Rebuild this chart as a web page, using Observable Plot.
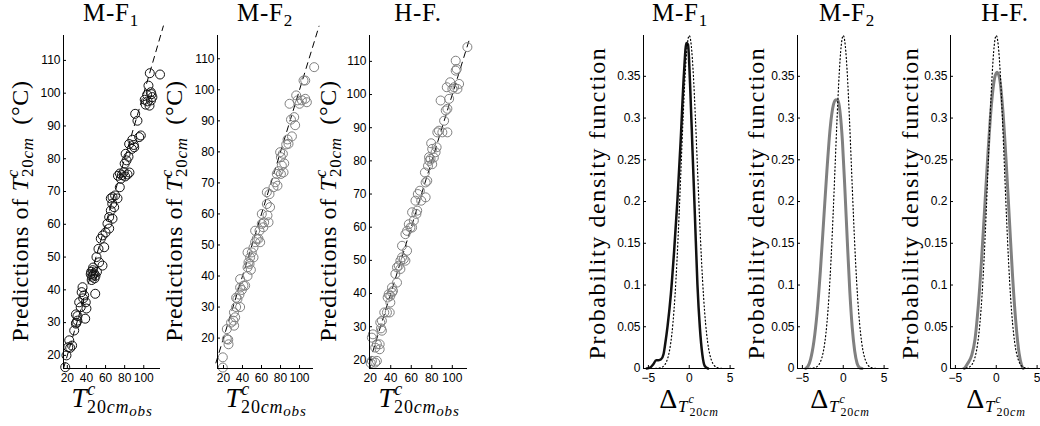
<!DOCTYPE html>
<html><head><meta charset="utf-8">
<script src="https://cdn.jsdelivr.net/npm/d3@7"></script>
<script src="https://cdn.jsdelivr.net/npm/@observablehq/plot@0.6"></script>
<style>
html,body{margin:0;padding:0;background:#fff;}
#wrap{position:relative;width:1040px;height:426px;overflow:hidden;background:#fff;}
#wrap > svg{position:absolute;top:0;}
</style></head><body><div id="wrap"></div>
<script>
// ---------- data ----------
const titles = ["M-F", "M-F", "H-F."];
const titleSubs = ["1", "2", ""];

// scatter: [observed T20cm, predicted T20cm]
const mf1Points = [[17.8,16.4],[19.1,20],[21,22.5],[23,22.3],[25,23],[22,24.6],[27.2,27.6],[29,29.7],[30.5,30.6],[29.5,30],[30.6,32],[29,32.5],[34,34.7],[32.4,36.2],[36.6,37.4],[37.6,38.3],[35,39.3],[35.9,40.8],[38.7,31.2],[40,34.3],[39.3,36.2],[49.2,38.8],[45,45.5],[46.5,46],[48,45],[49.5,44.3],[46,44],[51,45.5],[47,46.8],[48.5,43.5],[44.5,44.8],[45.5,43],[47,44.6],[56.8,47.4],[53.3,48.4],[50.5,50],[52.6,52.5],[58.6,53],[55,55.6],[57,56.6],[60,57.5],[63.8,58.7],[62,60.2],[67.3,61.7],[63.8,62.2],[65.5,64.2],[69,65.2],[67,66.3],[72.5,67.9],[70,68.8],[65.5,67.9],[67.3,68.3],[74.9,71.3],[76,73.9],[73,74.8],[75,75.5],[77,75],[79,75.9],[80.5,74.6],[83,75.2],[85,75.8],[80,78.5],[82,79.5],[84,80.6],[81,81.5],[84.7,84.5],[88,85.8],[89.5,84.2],[87.5,83],[90,83.5],[95.2,86.6],[96.9,87.1],[93.4,91.6],[91,93.7],[102,96.5],[104,97.5],[106,96.2],[107.5,97.8],[109,98.8],[103.5,99.5],[108,99.7],[101,98],[107.3,100.3],[104.9,102.3],[106.3,106.1],[117,105.7]];
const mf2Points = [[19.3,10.5],[19.3,13.8],[23.5,19.7],[25,19.5],[25.3,18],[23.5,22.9],[28,25],[30.5,25.6],[31.2,24],[32.3,26.7],[31,28.3],[33.3,30],[34.7,32.6],[33.3,33],[37.5,30],[36.8,34],[39.3,35.5],[37.5,36.3],[41,36.9],[42.8,36.9],[37.5,39],[45.3,40],[45.3,42.8],[47.4,43.9],[48.8,42],[46.3,44.4],[48,46],[51.6,46],[45.3,47.6],[49.8,47.6],[51.6,49.2],[53.3,50.9],[55,52],[56.8,52],[58.6,50.9],[53.3,54.6],[57.9,54.6],[60.3,56.8],[61.9,55.7],[62.8,57.3],[67.4,57.3],[60.3,60],[66.3,59.5],[69,62.2],[65.6,63.2],[68.4,66.4],[65.6,67],[72.6,68.6],[76.8,69.1],[74.4,70.2],[76.1,72.9],[77.9,73.8],[80.4,72.9],[83.2,73.4],[81.4,75.6],[83.9,76.3],[80.4,78.3],[79.6,79.9],[82.5,79.4],[86,82.4],[88.4,82.6],[87.4,84],[92,85],[91,90.4],[94.4,91.2],[95.4,88.6],[89.5,95.5],[96.5,98.2],[97.9,96.6],[100,95.5],[102.5,96.6],[106,97.1],[107.7,96],[104.2,103],[106,103],[115.4,107.3]];
const hfPoints = [[21.6,19.7],[20.5,19],[24.9,19.2],[26.5,19.7],[21.6,26.7],[22.6,27.7],[24.9,23.7],[26.5,24.7],[29.2,23.2],[29.2,24.7],[31.4,28.8],[30.5,29.5],[29.8,31.3],[31.4,31.8],[33.7,34.3],[36.3,34.3],[39,34.3],[37,38.8],[38,39.8],[39.6,39.3],[41.2,40.3],[42.2,40.8],[39.6,37.3],[41.2,41.8],[46.1,43.3],[44.5,45.9],[46.1,47.9],[47.8,48.4],[49.4,47.4],[49.4,49.9],[51,50.9],[52.7,50.4],[54.3,49.9],[51,54.4],[55.9,52.9],[54.3,57.9],[55.9,58.9],[57.6,60.9],[59.2,59.9],[60.8,59.9],[62.5,62],[60.8,64.5],[65,64],[65.8,65],[64.1,68],[66.4,70],[68.4,71],[69.7,68],[74,69],[74,73.5],[75.6,74],[73.3,76.5],[76.3,78.5],[77.6,80],[78.8,80.6],[80.4,79],[77.3,81.1],[82,81],[83.7,82.6],[80.4,83.6],[84.7,84.1],[79.4,85.3],[85.4,88.6],[87,89.1],[90.3,88.6],[95.2,88.6],[92,92.1],[93.6,95.2],[95.2,95.7],[88.6,98.2],[96.9,98.7],[94.6,102.2],[97.9,103.7],[100.1,101.7],[101.7,102.2],[105,101.7],[106.6,103.2],[103.3,107.2],[104.3,107.7],[103.3,110.2],[114.7,114.3]];

// axis limits of the three scatter panels
const scatterXLim = [[16, 117.5], [13.7, 114.7], [19.3, 114.8]];
const scatterYLim = [[16, 117.6], [10.2, 117.5], [17.4, 117.8]];
const refLineEnds = [[16, 120.5], [12, 120.5], [19.3, 116.5]];   // y = x reference
const scatterXTicks = [20, 40, 60, 80, 100];
const scatterYTicks = [20, 30, 40, 50, 60, 70, 80, 90, 100, 110];

// probability density functions of the prediction error
const normX = [-5,-4.5,-4,-3.5,-3,-2.75,-2.5,-2.25,-2,-1.75,-1.5,-1.25,-1,-0.75,-0.5,-0.25,0,0.25,0.5,0.75,1,1.25,1.5,1.75,2,2.25,2.5,2.75,3,3.5,4,4.5,5];
const normY = [0,0,0.0001,0.0009,0.0044,0.0091,0.0175,0.0317,0.054,0.0863,0.1295,0.1826,0.242,0.3011,0.3521,0.3867,0.3989,0.3867,0.3521,0.3011,0.242,0.1826,0.1295,0.0863,0.054,0.0317,0.0175,0.0091,0.0044,0.0009,0.0001,0,0];
const pdfMF1X = [-5.2,-4.8,-4.4,-4.05,-3.75,-3.45,-3.15,-2.95,-2.65,-2.25,-1.85,-1.45,-1.05,-0.65,-0.35,-0.15,0.1,0.4,0.7,1.0,1.3,1.6,1.9,2.3];
const pdfMF1Y = [0,0.001,0.005,0.010,0.010,0.011,0.017,0.029,0.051,0.089,0.141,0.201,0.273,0.353,0.390,0.388,0.341,0.261,0.181,0.101,0.049,0.017,0.003,0];
const pdfMF2X = [-4.6,-4.3,-4.0,-3.6,-3.2,-2.8,-2.4,-2.0,-1.6,-1.2,-0.9,-0.65,-0.4,-0.1,0.2,0.5,0.8,1.1,1.4,1.7,2.0,2.3];
const pdfMF2Y = [0,0.003,0.011,0.032,0.067,0.117,0.177,0.237,0.288,0.316,0.322,0.321,0.308,0.272,0.215,0.152,0.093,0.049,0.021,0.006,0.001,0];
const pdfHFX = [-3.9,-3.5,-3.0,-2.6,-2.2,-1.8,-1.4,-1.0,-0.6,-0.2,0.1,0.4,0.8,1.2,1.6,2.0,2.4,2.8,3.1,3.3];
const pdfHFY = [0,0.006,0.016,0.035,0.075,0.13,0.195,0.26,0.315,0.348,0.355,0.348,0.31,0.25,0.18,0.11,0.055,0.018,0.004,0];
const pdfXLim = [-5.6, 5.6];
const pdfYLim = [0, 0.3989];
const pdfXTicks = [-5, 0, 5];
const pdfYTicks = [0, 0.05, 0.1, 0.15, 0.2, 0.25, 0.3, 0.35];

// ---------- drawing ----------
const wrap = document.getElementById("wrap");
const tickFont = "'Liberation Sans', Arial, sans-serif";
const baseStyle = {background: "none", overflow: "visible", fontFamily: tickFont, fontSize: "12px", maxWidth: "none", color: "#000"};

function place(svg, left) {
  svg.style.position = "absolute";
  svg.style.left = left + "px";
  svg.style.top = "0px";
  wrap.appendChild(svg);
}

function axes(xTicks, yTicks, yFmt) {
  return [
    Plot.axisX({ticks: xTicks, tickSize: 0, tickPadding: 5, label: null, tickFormat: d => String(d).replace("-", "\u2212")}),
    Plot.axisX({ticks: xTicks, tickSize: 3, dy: -3, fill: "none", label: null}),
    Plot.axisY({ticks: yTicks, tickSize: 0, tickPadding: 3, label: null, tickFormat: yFmt}),
    Plot.axisY({ticks: yTicks, tickSize: 3, dx: 3, fill: "none", label: null})
  ];
}

const scatterSets = [mf1Points, mf2Points, hfPoints];
const scatterLeft = [63, 217, 369];
const scatterW = [97, 96, 98];
const scatterColor = ["#111", "#808080", "#808080"];
scatterSets.forEach((pts, i) => {
  const mL = 40, mR = 14;
  const svg = Plot.plot({
    width: mL + scatterW[i] + mR, height: 426,
    marginLeft: mL, marginRight: mR, marginTop: 35, marginBottom: 58,
    style: baseStyle,
    x: {domain: scatterXLim[i]},
    y: {domain: scatterYLim[i]},
    marks: [
      Plot.line(refLineEnds[i], {x: d => d, y: d => d, stroke: "#000", strokeWidth: 1, strokeDasharray: "6,5"}),
      Plot.dot(pts, {x: d => d[0], y: d => d[1], r: 4.5, stroke: scatterColor[i], strokeWidth: 1, fill: "none"}),
      Plot.ruleX([scatterXLim[i][0]], {stroke: "#000", strokeWidth: 1}),
      Plot.ruleY([scatterYLim[i][0]], {stroke: "#000", strokeWidth: 1}),
      ...axes(scatterXTicks, scatterYTicks, d => String(d))
    ]
  });
  place(svg, scatterLeft[i] - mL);
});

const pdfSets = [[pdfMF1X, pdfMF1Y], [pdfMF2X, pdfMF2Y], [pdfHFX, pdfHFY]];
const pdfLeft = [643, 797, 950];
const pdfW = 91.5;
const pdfColor = ["#111", "#808080", "#808080"];
const pdfWidth = [2.5, 3, 3];
pdfSets.forEach(([xs, ys], i) => {
  const mL = 45, mR = 14;
  const svg = Plot.plot({
    width: mL + pdfW + mR, height: 426,
    marginLeft: mL, marginRight: mR, marginTop: 35, marginBottom: 58,
    style: baseStyle,
    x: {domain: pdfXLim},
    y: {domain: pdfYLim},
    marks: [
      Plot.line(xs, {x: xs, y: ys, stroke: pdfColor[i], strokeWidth: pdfWidth[i], curve: "monotone-x"}),
      Plot.line(normX, {x: normX, y: normY, stroke: "#000", strokeWidth: 1.2, strokeDasharray: "1,2.6", curve: "monotone-x"}),
      Plot.ruleX([pdfXLim[0]], {stroke: "#000", strokeWidth: 1}),
      Plot.ruleY([pdfYLim[0]], {stroke: "#000", strokeWidth: 1}),
      ...axes(pdfXTicks, pdfYTicks, d => String(d))
    ]
  });
  place(svg, pdfLeft[i] - mL);
});

// ---------- text overlay (titles and axis labels) ----------
const NS = "http://www.w3.org/2000/svg";
const ov = document.createElementNS(NS, "svg");
ov.setAttribute("width", 1040); ov.setAttribute("height", 426);
ov.style.position = "absolute"; ov.style.left = "0px"; ov.style.top = "0px";
ov.style.pointerEvents = "none";
ov.style.fontFamily = "'Liberation Serif', 'Times New Roman', serif";
wrap.appendChild(ov);

function addText(x, y, rotate, parts, size, spacing) {
  const t = document.createElementNS(NS, "text");
  t.setAttribute("text-anchor", "middle");
  t.setAttribute("font-size", size);
  t.setAttribute("fill", "#000");
  if (spacing) t.style.letterSpacing = spacing + "px";
  t.setAttribute("transform", `translate(${x},${y})` + (rotate ? " rotate(-90)" : ""));
  parts.forEach(p => {
    const s = document.createElementNS(NS, "tspan");
    s.textContent = p.t;
    if (p.it) s.setAttribute("font-style", "italic");
    if (p.fs) s.setAttribute("font-size", p.fs);
    if (p.dx) s.setAttribute("dx", p.dx);
    if (p.dy) s.setAttribute("dy", p.dy);
    t.appendChild(s);
  });
  ov.appendChild(t);
}

const titleX = [111, 265, 418, 680, 847, 1005];
titleX.forEach((x, i) => {
  const k = i % 3;
  const parts = [{t: titles[k]}];
  if (titleSubs[k]) parts.push({t: titleSubs[k], fs: 17, dy: 5});
  addText(x, 21, false, parts, 25, 0.8);
});

const predLabel = [
  {t: "Predictions of "}, {t: "T", it: true}, {t: "c", it: true, fs: 17, dy: -10},
  {t: "20", fs: 17, dx: -8, dy: 15}, {t: "cm", it: true, fs: 17}, {t: "\u2002(\u00b0C)", dy: -5}
];
[28, 182, 336].forEach(x => addText(x, 211, true, predLabel, 24, 0.7));

const pdfLabel = [{t: "Probability density function"}];
[605, 764, 918].forEach(x => addText(x, 203, true, pdfLabel, 24, 1.6));

const obsLabel = [
  {t: "T", it: true, fs: 27}, {t: "c", it: true, fs: 18, dy: -12},
  {t: "20", fs: 18, dx: -9, dy: 18}, {t: "cm", it: true, fs: 18}, {t: "obs", it: true, fs: 15, dy: 3}
];
[112, 266, 419].forEach(x => addText(x, 407, false, obsLabel, 27, 0.8));

const deltaLabel = [
  {t: "\u0394", fs: 28}, {t: "T", it: true, fs: 17, dy: 4}, {t: "c", it: true, fs: 12, dy: -9},
  {t: "20", fs: 12, dx: -5, dy: 13}, {t: "cm", it: true, fs: 12}
];
[689, 840, 996].forEach(x => addText(x, 408, false, deltaLabel, 28, 0.8));
</script></body></html>
